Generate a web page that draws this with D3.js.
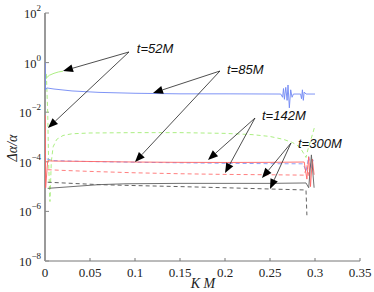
<!DOCTYPE html>
<html><head><meta charset="utf-8">
<script src="https://cdn.jsdelivr.net/npm/d3@7"></script>
<style>
body{margin:0;background:#fff}svg{display:block}
.serif{font-family:'Liberation Serif','Tinos','Times New Roman','DejaVu Serif',serif}
.sans{font-family:'Liberation Sans',Arial,'Noto Sans',sans-serif}
</style>
</head><body>
<script>
// ---- data ----
const xTicks = [0, 0.05, 0.1, 0.15, 0.2, 0.25, 0.3, 0.35];
const yTickExps = [2, 0, -2, -4, -6, -8];

const greenSolid = [[0.0003,0.2],[0.002,0.25],[0.005,0.31],[0.01,0.37],[0.015,0.42],[0.02,0.45]];
const greenDashed = [[0.0015,0.35],[0.003,0.01],[0.004,1e-4],[0.0055,2.5e-6],[0.007,1e-4],[0.009,4e-4],[0.013,8e-4],[0.02,1.15e-3],[0.03,1.35e-3],[0.05,1.45e-3],[0.1,1.5e-3],[0.15,1.5e-3],[0.2,1.4e-3],[0.23,1.25e-3],[0.25,1.05e-3],[0.265,8e-4],[0.275,6e-4],[0.283,4e-4],[0.288,2e-4],[0.29,1.5e-4],[0.292,3e-4],[0.295,7e-4],[0.298,1.6e-3],[0.3,3e-3]];
const blueSolid = [[0.0002,1.0],[0.0005,0.08],[0.002,0.095],[0.01,0.086],[0.03,0.072],[0.06,0.063],[0.1,0.058],[0.15,0.055],[0.2,0.055],[0.262,0.054],[0.264,0.04],[0.265,0.09],[0.266,0.033],[0.2675,0.1],[0.269,0.03],[0.270,0.125],[0.2715,0.015],[0.273,0.08],[0.2745,0.04],[0.276,0.054],[0.284,0.054],[0.285,0.035],[0.286,0.08],[0.287,0.03],[0.288,0.065],[0.29,0.054],[0.3,0.054]];
const blueDashed = [[0.002,1.3e-4],[0.01,1.12e-4],[0.05,1.02e-4],[0.1,9.6e-5],[0.15,9.1e-5],[0.2,8.7e-5],[0.25,8.4e-5],[0.287,8.3e-5],[0.29,4e-5],[0.293,1.6e-4],[0.296,5e-5],[0.298,1.2e-4]];
const redSolid = [[0.0003,7.6e-3],[0.0007,9e-6],[0.003,1.1e-4],[0.01,1.07e-4],[0.05,1.03e-4],[0.1,9.8e-5],[0.15,9.5e-5],[0.2,9.4e-5],[0.25,9.5e-5],[0.288,9.8e-5],[0.291,2e-5],[0.293,1.6e-4],[0.295,1e-5],[0.297,1.3e-4],[0.299,3e-5]];
const redDashed = [[0.003,4.8e-5],[0.02,4.5e-5],[0.05,4.1e-5],[0.1,3.6e-5],[0.15,3.3e-5],[0.2,3.1e-5],[0.25,3e-5],[0.288,2.9e-5],[0.291,7e-5],[0.294,2e-5]];
const blackSolid = [[0.003,8.5e-6],[0.03,1.0e-5],[0.06,1.2e-5],[0.09,1.3e-5],[0.15,1.35e-5],[0.2,1.35e-5],[0.25,1.35e-5],[0.29,1.4e-5],[0.293,9e-6],[0.296,1.9e-4],[0.299,9e-6]];
const blackDashed = [[0.003,1.5e-5],[0.03,1.35e-5],[0.06,1.2e-5],[0.1,1.1e-5],[0.15,1e-5],[0.2,9e-6],[0.25,8e-6],[0.29,7.3e-6],[0.291,7e-7]];

// annotations: label position, arrow start, arrow tips (data units)
const annLabels = ["t=52M","t=85M","t=142M","t=300M"];
const annTextPos = [[0.102,2.44],[0.2022,0.347],[0.2411,4.85e-3],[0.2811,3.6e-4]];
const annStart = [[0.0933,2.68],[0.1944,0.458],[0.2333,5.8e-3],[0.2733,5.7e-4]];
const annTips = [[[0.02,0.458],[0.0033,2.3e-3]],[[0.12,0.0594],[0.1,9.8e-5]],[[0.1811,1.18e-4],[0.2,3.5e-5]],[[0.2411,2.2e-5],[0.25,8e-6]]];

// ---- chart ----
const W=374,H=292;
const svg=d3.select("body").append("svg").attr("width",W).attr("height",H);
const x=d3.scaleLinear().domain([0,0.35]).range([45,360]);
const y=d3.scaleLog().domain([1e-8,1e2]).range([261,13]);

svg.append("defs").append("clipPath").attr("id","clip")
  .append("rect").attr("x",45).attr("y",13).attr("width",315).attr("height",248);

// axes
const xAxis=svg.append("g").attr("transform","translate(0,261)");
xAxis.append("line").attr("x1",45).attr("x2",360).attr("stroke","#777").attr("stroke-width",1);
xTicks.forEach(t=>{
  xAxis.append("line").attr("x1",x(t)).attr("x2",x(t)).attr("y1",0).attr("y2",-3).attr("stroke","#777");
  xAxis.append("text").attr("class","serif").attr("x",x(t)).attr("y",16).attr("text-anchor","middle")
    .attr("font-size",13).attr("fill","#222")
    .text(String(t));
});
const yAxis=svg.append("g");
yAxis.append("line").attr("x1",45).attr("x2",45).attr("y1",13).attr("y2",261).attr("stroke","#9a9a9a").attr("stroke-width",2);
yTickExps.forEach(e=>{
  const yy=y(Math.pow(10,e));
  yAxis.append("line").attr("x1",45).attr("x2",49).attr("y1",yy).attr("y2",yy).attr("stroke","#888");
  const t=yAxis.append("text").attr("class","serif").attr("x",41).attr("y",yy+5).attr("text-anchor","end")
    .attr("font-size",12.5).attr("fill","#222");
  t.append("tspan").text("10");
  t.append("tspan").attr("dy",-7).attr("font-size",9).text(e<0?"\u2212"+(-e):String(e));
});

// axis labels
svg.append("text").attr("class","serif").attr("transform","translate(17,148) rotate(-90)").attr("text-anchor","middle")
  .attr("font-style","italic").attr("font-size",14).attr("fill","#222")
  .text("\u0394\u03b1/\u03b1");
svg.append("text").attr("class","serif").attr("x",203).attr("y",288).attr("text-anchor","middle")
  .attr("font-style","italic").attr("font-size",14).attr("fill","#222")
  .text("K M");

// series
const line=d3.line().x(d=>x(d[0])).y(d=>y(d[1]));
const plot=svg.append("g").attr("clip-path","url(#clip)");
const series=[
  [greenDashed,"#a3ec75","4,3"],
  [greenSolid,"#a3ec75",null],
  [blueSolid,"#7088f4",null],
  [blueDashed,"#8596f6","4,3"],
  [redDashed,"#ff7070","4,3"],
  [redSolid,"#ff6262",null],
  [blackDashed,"#505050","4,3"],
  [blackSolid,"#606060",null]
];
series.forEach(([d,c,da])=>{
  plot.append("path").datum(d).attr("d",line).attr("fill","none").attr("stroke",c)
    .attr("stroke-width",0.9).attr("stroke-dasharray",da);
});

// annotations
const ann=svg.append("g");
annLabels.forEach((lab,i)=>{
  const s=[x(annStart[i][0]),y(annStart[i][1])];
  annTips[i].forEach(tp=>{
    const t=[x(tp[0]),y(tp[1])];
    const dx=t[0]-s[0],dy=t[1]-s[1],L=Math.hypot(dx,dy);
    const ux=dx/L,uy=dy/L,hl=10,hw=4;
    const bx=t[0]-ux*hl,by=t[1]-uy*hl;
    ann.append("line").attr("x1",s[0]).attr("y1",s[1]).attr("x2",bx).attr("y2",by).attr("stroke","#222").attr("stroke-width",0.8);
    ann.append("path").attr("d",`M${t[0]},${t[1]}L${bx-uy*hw},${by+ux*hw}L${bx+uy*hw},${by-ux*hw}Z`).attr("fill","#000");
  });
  ann.append("text").attr("class","sans").attr("x",x(annTextPos[i][0])).attr("y",y(annTextPos[i][1]))
    .attr("font-style","italic").attr("font-size",13).attr("fill","#111")
    .text(lab);
});
</script>
</body></html>
